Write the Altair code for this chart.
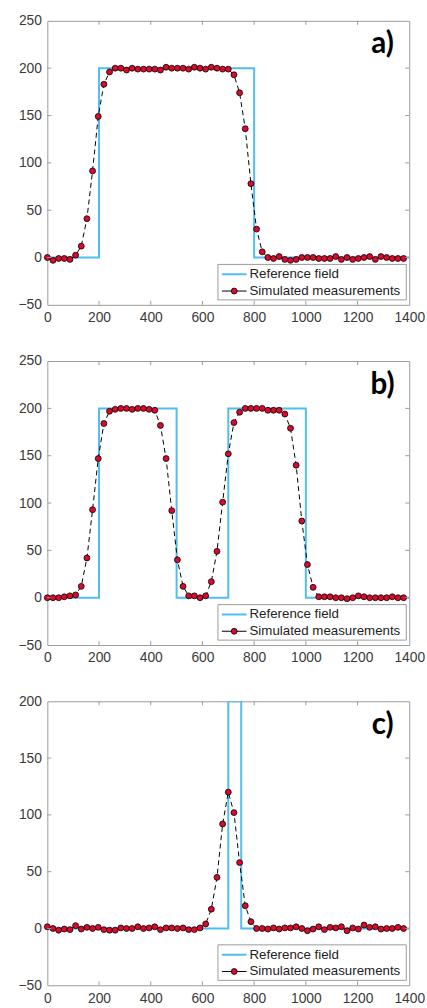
import altair as alt
import pandas as pd

STEP = 1400 / 64
x_pts = [round(k * STEP, 3) for k in range(64)]

y_a = [0, -3, -1, -1, -2, 2.5, 12, 41, 91.5, 149, 183, 196, 200, 200, 198, 200,
       199, 199, 199, 199, 198, 201, 200, 200, 200, 199, 201, 200, 199, 201, 200, 199,
       199, 193, 174, 136, 78, 30, 6, 0, -1, 1, -2, -3, -2, 0,
       0, 0, -1, -1, -1, 1, -2, 0, -2, -1, 0, 1, -2, 1, 0, -1, -1, -1]
y_b = [0, 0, 0, 1, 2, 3, 12, 42, 93, 147, 184, 197, 199, 200, 200, 199,
       200, 200, 199, 198, 182, 147, 92, 40, 12, 2, 2, 0, 2, 17, 49, 101,
       152, 185, 196, 200, 200, 200, 200, 198, 198, 198, 194, 179, 140, 81, 35, 11,
       1, 1, 1, 0, 0, -1, 0, 2, 1, 0, 0, 0, 0, 1, 0, 0]
y_c = [1.5, 0, -1.5, -0.5, -1, 2.5, -0.5, 1, 0, 1, -1, -1.5, -1.5, 0.5, 0, 0,
       1.5, 0, 0.5, 1.5, -1, 0.5, 0.5, 0, 0.5, -1, -1, 0.5, 4, 17, 45, 92,
       120, 102, 58, 20, 6, 0, 0, -0.5, 0.5, -0.5, 0.5, 0.5, 1.5, 0, -2, -0.5,
       1.5, -1, 1, 0.5, 1.5, -2, 0.5, -0.5, 3, 1, 1.5, -0.5, 0, 0, 1, 0]

ref_x_a = [0, 200, 800, 1400]
ref_y_a = [0, 200, 0, 0]
ref_x_b = [0, 200, 500, 700, 1000, 1400]
ref_y_b = [0, 200, 0, 200, 0, 0]
ref_x_c = [0, 700, 750, 1400]
ref_y_c = [0, 200, 0, 0]

x_ticks = [0, 200, 400, 600, 800, 1000, 1200, 1400]
y_ticks_ab = [-50, 0, 50, 100, 150, 200, 250]
y_ticks_c = [-50, 0, 50, 100, 150, 200]

labels = ["a)", "b)", "c)"]
legend_labels = ["Reference field", "Simulated measurements"]

W, H = 367, 288
BLUE = "#4DBEEE"
RED = "#DA0A2C"
GREY = "#9a9a9a"
TL = 4


def panel(ys, rx, ry, yticks, label):
    ydom = [yticks[0], yticks[-1]]
    xs = alt.Scale(domain=[0, 1400], nice=False, zero=False)
    ysc = alt.Scale(domain=ydom, nice=False, zero=False)
    meas = pd.DataFrame({"x": x_pts, "y": ys})
    ref = pd.DataFrame({"x": rx, "y": ry})

    ref_line = alt.Chart(ref).mark_line(
        color=BLUE, strokeWidth=2, interpolate="step-after", clip=True
    ).encode(
        x=alt.X("x:Q", scale=xs, axis=alt.Axis(values=x_ticks, title=None, format="d",
                                                labelOverlap=False, labelFlush=False)),
        y=alt.Y("y:Q", scale=ysc, axis=alt.Axis(values=yticks, title=None, format="d",
                                                labelOverlap=False, labelFlush=False)),
    )
    dash = alt.Chart(meas).mark_line(
        color="black", strokeWidth=1, strokeDash=[5, 3.5]
    ).encode(x=alt.X("x:Q", scale=xs), y=alt.Y("y:Q", scale=ysc))
    pts = alt.Chart(meas).mark_point(
        filled=True, fill=RED, stroke="black", strokeWidth=0.8, size=36, opacity=1
    ).encode(x=alt.X("x:Q", scale=xs), y=alt.Y("y:Q", scale=ysc))

    xt = pd.DataFrame({"x": x_ticks[1:-1]})
    yt = pd.DataFrame({"y": yticks[1:-1]})
    tick_b = alt.Chart(xt).mark_rule(color=GREY, strokeWidth=1).encode(
        x=alt.X("x:Q", scale=xs), y=alt.value(H), y2=alt.value(H - TL))
    tick_t = alt.Chart(xt).mark_rule(color=GREY, strokeWidth=1).encode(
        x=alt.X("x:Q", scale=xs), y=alt.value(0), y2=alt.value(TL))
    tick_l = alt.Chart(yt).mark_rule(color=GREY, strokeWidth=1).encode(
        y=alt.Y("y:Q", scale=ysc), x=alt.value(0), x2=alt.value(TL))
    tick_r = alt.Chart(yt).mark_rule(color=GREY, strokeWidth=1).encode(
        y=alt.Y("y:Q", scale=ysc), x=alt.value(W), x2=alt.value(W - TL))

    one = alt.Data(values=[{"k": 1}])
    lab = alt.Chart(one).mark_text(
        text=label, font="Lato", fontSize=30, fontWeight="bold", color="black",
        align="center", baseline="middle"
    ).encode(x=alt.value(340), y=alt.value(24))

    lx0, lx1, ly0, ly1 = 173, 364, 247, 283
    box = alt.Chart(one).mark_rect(fill="white", stroke=GREY, strokeWidth=1).encode(
        x=alt.value(lx0), x2=alt.value(lx1), y=alt.value(ly0), y2=alt.value(ly1))
    r1y, r2y = 257, 274
    l1 = alt.Chart(one).mark_rule(color=BLUE, strokeWidth=2).encode(
        x=alt.value(lx0 + 4), x2=alt.value(lx0 + 29), y=alt.value(r1y))
    l2 = alt.Chart(one).mark_rule(color="black", strokeWidth=1).encode(
        x=alt.value(lx0 + 4), x2=alt.value(lx0 + 29), y=alt.value(r2y))
    p2 = alt.Chart(one).mark_point(
        filled=True, fill=RED, stroke="black", strokeWidth=0.8, size=36, opacity=1
    ).encode(x=alt.value(lx0 + 16.5), y=alt.value(r2y))
    t1 = alt.Chart(one).mark_text(
        text=legend_labels[0], font="Liberation Sans", fontSize=13.5, color="#222",
        align="left", baseline="middle").encode(x=alt.value(lx0 + 32), y=alt.value(r1y))
    t2 = alt.Chart(one).mark_text(
        text=legend_labels[1], font="Liberation Sans", fontSize=13.5, color="#222",
        align="left", baseline="middle").encode(x=alt.value(lx0 + 32), y=alt.value(r2y))

    return alt.layer(
        ref_line, dash, pts, tick_b, tick_t, tick_l, tick_r, lab,
        box, l1, l2, p2, t1, t2
    ).properties(width=W, height=H)


chart = alt.vconcat(
    panel(y_a, ref_x_a, ref_y_a, y_ticks_ab, labels[0]),
    panel(y_b, ref_x_b, ref_y_b, y_ticks_ab, labels[1]),
    panel(y_c, ref_x_c, ref_y_c, y_ticks_c, labels[2]),
    spacing=28,
).properties(
    padding={"left": 17, "top": 6, "right": 1, "bottom": 2},
    background="white",
).configure_view(
    stroke=GREY, strokeWidth=1
).configure_axis(
    labelFont="Liberation Sans", labelFontSize=14, labelColor="#3a3a3a",
    domain=False, ticks=False, tickSize=0, grid=False, labelPadding=6,
)

chart.save("out.html", embed_options={"renderer": "svg", "actions": False})
